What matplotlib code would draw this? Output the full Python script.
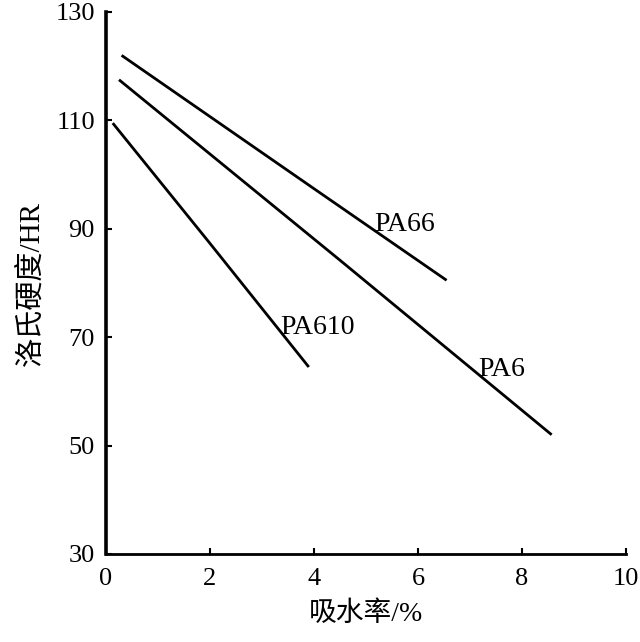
import matplotlib
matplotlib.use("Agg")
import matplotlib.pyplot as plt

# data
pa66_x = [0.30, 4.0, 6.55]
pa66_y = [122.0, 97.4, 80.5]
pa6_x = [0.25, 4.5, 8.57]
pa6_y = [117.5, 84.2, 52.0]
pa610_x = [0.13, 2.0, 3.9]
pa610_y = [109.5, 87.3, 64.5]

series_names = ["PA66", "PA6", "PA610"]
label_pos = {"PA66": (5.15, 89.6), "PA6": (7.15, 62.8), "PA610": (3.35, 70.5)}

xticks = [0, 2, 4, 6, 8, 10]
yticks = [30, 50, 70, 90, 110, 130]
xlabel = "吸水率/%"
ylabel = "洛氏硬度/HR"

serif = ["Liberation Serif", "Noto Sans CJK SC"]

fig = plt.figure(figsize=(6.4, 6.42), dpi=100)
ax = fig.add_axes([106 / 640, (642 - 554) / 642, (626 - 106) / 640, (554 - 12) / 642])

for xs, ys in [(pa66_x, pa66_y), (pa6_x, pa6_y), (pa610_x, pa610_y)]:
    ax.plot(xs, ys, color="black", lw=2.0, solid_capstyle="butt")

for name in series_names:
    x, y = label_pos[name]
    ax.text(x, y, name, fontsize=20, family=serif, ha="left", va="baseline", color="black")

ax.set_xlim(0, 10)
ax.set_ylim(30, 130)
ax.set_xticks(xticks)
ax.set_yticks(yticks)
ax.set_xticklabels([str(v) for v in xticks], family=serif, fontsize=19)
ax.set_yticklabels([str(v) for v in yticks], family=serif, fontsize=19)
ax.tick_params(direction="in", length=4, width=1.5, colors="black")
ax.tick_params(axis="x", pad=10)
ax.tick_params(axis="y", pad=8)

for s in ["top", "right"]:
    ax.spines[s].set_visible(False)
ax.spines["left"].set_linewidth(2.6)
ax.spines["bottom"].set_linewidth(2.0)

ax.set_xlabel(xlabel, family=serif, fontsize=20, labelpad=8)
ax.set_ylabel(ylabel, family=serif, fontsize=21, labelpad=8)

fig.savefig("out.png", dpi=100)
